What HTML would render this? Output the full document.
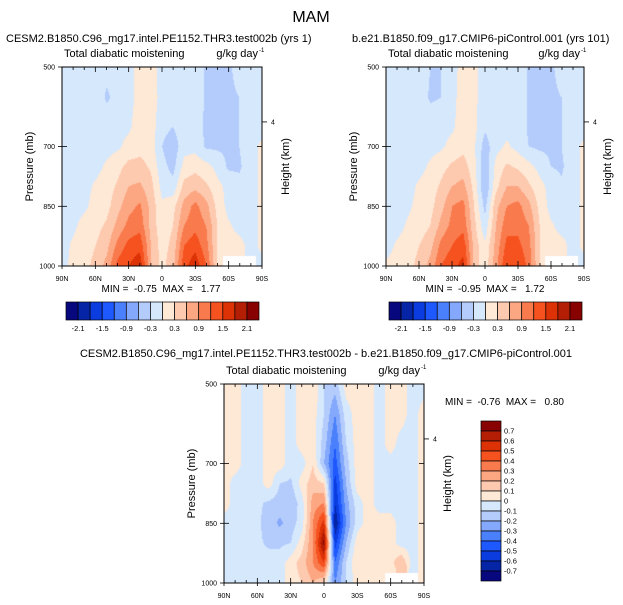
<!DOCTYPE html>
<html><head><meta charset="utf-8">
<style>
body{margin:0;background:#fff;width:623px;height:605px;overflow:hidden;position:relative;font-family:"Liberation Sans",sans-serif}
canvas{position:absolute}
svg{position:absolute;left:0;top:0}
</style></head>
<body>
<canvas id="c1" width="200" height="199" style="left:62px;top:67px"></canvas>
<canvas id="c2" width="198" height="199" style="left:386px;top:67px"></canvas>
<canvas id="c3" width="200" height="199" style="left:224px;top:384px"></canvas>
<svg id="s" width="623" height="605"></svg>
<script>
const lats=[90,80,70,60,50,40,30,20,10,0,-10,-20,-30,-40,-50,-60,-70,-80,-90];
const pres=[500,575,650,700,750,800,850,900,950,1000];
const latTicks=["90N","60N","30N","0","30S","60S","90S"];
const presTicks=[500,700,850,1000];
const topLevels=[-2.1,-1.8,-1.5,-1.2,-0.9,-0.6,-0.3,0,0.3,0.6,0.9,1.2,1.5,1.8,2.1];
const topLabels=["-2.1","-1.5","-0.9","-0.3","0.3","0.9","1.5","2.1"];
const diffLevels=[-0.7,-0.6,-0.5,-0.4,-0.3,-0.2,-0.1,0,0.1,0.2,0.3,0.4,0.5,0.6,0.7];
const palette=["#08087e","#0524a6","#0a3ce0","#1e58ff","#4a80fc","#84a8fc","#b4ccfc","#d6e8fc","#fee8d6","#fdcab0","#fca682","#f97a4c","#f5521f","#dc3206","#b41e04","#880202"];
const data1=[
[-0.1,-0.1,-0.1,-0.1,-0.2,-0.1,-0.1,0.1,0.1,-0.1,-0.1,-0.1,-0.1,-0.35,-0.35,-0.35,-0.2,-0.1,-0.1],
[-0.1,-0.1,-0.1,-0.1,-0.35,-0.2,-0.1,0.1,0.15,-0.1,-0.2,-0.1,-0.1,-0.35,-0.35,-0.35,-0.3,-0.1,-0.1],
[-0.1,-0.1,-0.1,-0.1,-0.1,-0.1,-0.05,0.15,0.15,-0.2,-0.3,-0.1,-0.2,-0.35,-0.35,-0.35,-0.3,-0.1,-0.1],
[-0.1,-0.1,-0.1,-0.1,-0.1,-0.05,0.1,0.2,0.15,-0.3,-0.5,-0.1,-0.1,-0.35,-0.35,-0.35,-0.3,-0.1,0.05],
[-0.1,-0.1,-0.1,-0.1,0.05,0.2,0.4,0.4,0.25,-0.2,-0.4,0.1,0.2,0.1,-0.1,-0.35,-0.35,-0.1,0.05],
[-0.1,-0.1,-0.1,0.05,0.15,0.35,0.6,0.65,0.4,-0.1,-0.2,0.4,0.5,0.35,0.1,-0.1,-0.2,-0.1,0.05],
[-0.1,-0.1,-0.05,0.1,0.2,0.5,0.8,0.95,0.5,0.05,0.2,0.7,1.0,0.7,0.2,-0.1,-0.1,-0.1,0.05],
[-0.1,-0.05,0.1,0.2,0.35,0.7,1.0,1.1,0.5,0.1,0.3,0.9,1.1,0.9,0.3,0.05,-0.1,-0.1,0.05],
[-0.1,0.05,0.15,0.3,0.5,1.0,1.3,1.4,0.6,0.15,0.4,1.2,1.4,1.0,0.3,0.1,0.1,-0.1,0.05],
[-0.1,0.1,0.2,0.4,0.7,1.3,1.5,1.7,0.6,0.2,0.5,1.4,1.7,1.2,0.3,null,null,null,-0.1]];
const data2=[
[-0.1,-0.1,-0.1,-0.1,-0.3,-0.3,-0.1,0.1,0.05,-0.1,-0.1,-0.1,-0.1,-0.35,-0.35,-0.35,-0.2,-0.1,-0.1],
[-0.1,-0.1,-0.1,-0.1,-0.35,-0.3,-0.1,0.15,0.05,-0.1,-0.1,-0.1,-0.1,-0.35,-0.35,-0.35,-0.3,-0.1,-0.1],
[-0.1,-0.1,-0.1,-0.1,-0.1,-0.1,-0.05,0.15,0.1,-0.25,-0.1,-0.1,-0.1,-0.35,-0.35,-0.35,-0.3,-0.1,-0.1],
[-0.1,-0.1,-0.1,-0.1,-0.1,-0.05,0.1,0.2,0.05,-0.45,-0.1,0.05,-0.1,-0.3,-0.35,-0.35,-0.3,-0.1,0.05],
[-0.1,-0.1,-0.1,-0.1,0.05,0.2,0.35,0.45,0.1,-0.55,0.1,0.35,0.25,0.1,-0.1,-0.3,-0.35,-0.1,0.05],
[-0.1,-0.1,-0.1,0.05,0.15,0.35,0.6,0.7,0.2,-0.6,0.2,0.6,0.6,0.35,0.1,-0.1,-0.25,-0.1,0.05],
[-0.1,-0.1,-0.05,0.1,0.2,0.5,0.9,1.0,0.3,-0.4,0.5,0.9,1.0,0.7,0.2,-0.1,-0.2,-0.1,0.05],
[-0.1,-0.1,0.05,0.15,0.3,0.7,1.0,1.1,0.4,-0.2,0.6,1.1,1.1,0.9,0.3,0.05,-0.1,-0.1,0.05],
[-0.1,0.05,0.15,0.3,0.5,1.0,1.2,1.4,0.5,0.05,0.7,1.3,1.3,1.0,0.3,0.1,0.1,-0.1,0.05],
[0.05,0.1,0.2,0.4,0.7,1.2,1.4,1.6,0.5,0.1,0.8,1.5,1.5,1.1,0.3,null,null,null,-0.1]];
const data3=[
[0.05,0.05,-0.05,-0.05,0.05,0.05,-0.05,0.05,0.1,-0.1,-0.15,0.05,0.05,0.05,-0.05,0.05,0.05,-0.05,-0.05],
[0.05,0.05,-0.05,-0.05,0.05,0.05,-0.05,0.05,0.05,-0.1,-0.3,-0.05,0.05,0.05,-0.05,0.05,0.05,-0.05,0.05],
[0.05,0.05,-0.05,-0.05,0.05,0.05,-0.05,0.05,0.05,-0.15,-0.4,-0.1,0.05,0.05,-0.05,0.05,-0.05,-0.05,0.05],
[0.05,0.05,-0.05,-0.05,0.05,0.05,-0.05,-0.05,0.1,-0.2,-0.45,-0.15,0.05,0.05,-0.05,-0.05,-0.05,-0.05,0.05],
[0.05,-0.05,-0.05,-0.05,0.05,-0.1,-0.12,0.05,0.15,0.1,-0.55,-0.2,0.05,0.05,-0.05,-0.05,-0.05,-0.05,0.05],
[0.05,-0.05,-0.05,-0.08,-0.12,-0.15,-0.18,-0.05,0.25,0.3,-0.6,-0.25,-0.05,0.05,-0.05,-0.05,-0.05,-0.05,0.05],
[-0.05,-0.05,-0.05,-0.08,-0.15,-0.22,-0.15,-0.05,0.3,0.55,-0.7,-0.3,-0.05,0.05,0.05,0.05,-0.05,-0.05,0.05],
[-0.05,-0.05,-0.05,-0.08,-0.12,-0.12,-0.1,0.05,0.3,0.75,-0.55,-0.2,0.05,0.1,0.05,0.05,-0.05,-0.05,0.05],
[-0.05,-0.05,-0.05,-0.05,-0.05,-0.05,0.05,0.15,0.3,0.5,-0.4,-0.1,0.1,0.1,0.05,0.05,0.2,-0.05,0.05],
[-0.05,-0.05,-0.05,-0.05,-0.1,-0.05,0.05,0.1,0.2,0.1,-0.3,-0.1,0.05,0.05,0.05,null,null,null,0.05]];

function colorFor(v,levels){let i=0;while(i<levels.length&&v>=levels[i])i++;return palette[i];}
function hex(c){return [parseInt(c.substr(1,2),16),parseInt(c.substr(3,2),16),parseInt(c.substr(5,2),16)];}
function drawField(id,data,levels){
  const cv=document.getElementById(id),ctx=cv.getContext('2d'),W=cv.width,H=cv.height;
  const img=ctx.createImageData(W,H);
  for(let y=0;y<H;y++){
    const p=500+500*y/(H-1);
    let j=0;while(j<pres.length-2&&p>pres[j+1])j++;
    const tp=(p-pres[j])/(pres[j+1]-pres[j]);
    for(let x=0;x<W;x++){
      const lat=90-180*x/(W-1);
      const fi=(90-lat)/10;let i=Math.min(Math.floor(fi),lats.length-2);const tl=fi-i;
      const a=data[j][i],b=data[j][i+1],c=data[j+1][i],d=data[j+1][i+1];
      const nj=tp<0.5?j:j+1,ni=tl<0.5?i:i+1;
      let rgb;
      if(data[nj][ni]===null){rgb=[255,255,255];}
      else{
        const f=v=>v===null?data[nj][ni]:v;
        const v=(f(a)*(1-tl)+f(b)*tl)*(1-tp)+(f(c)*(1-tl)+f(d)*tl)*tp;
        rgb=hex(colorFor(v,levels));
      }
      const k=(y*W+x)*4;img.data[k]=rgb[0];img.data[k+1]=rgb[1];img.data[k+2]=rgb[2];img.data[k+3]=255;
    }
  }
  ctx.putImageData(img,0,0);
}
drawField('c1',data1,topLevels);
drawField('c2',data2,topLevels);
drawField('c3',data3,diffLevels);

const NS='http://www.w3.org/2000/svg',S=document.getElementById('s');
function el(tag,attrs,txt){const e=document.createElementNS(NS,tag);for(const k in attrs)e.setAttribute(k,attrs[k]);if(txt!==undefined)e.textContent=txt;S.appendChild(e);return e;}
function txt(x,y,s,size,anchor,name,extra){const t=el('text',Object.assign({x:x,y:y,'font-size':size,'text-anchor':anchor||'start','font-family':'Liberation Sans, sans-serif',fill:'#000'},extra||{}),s);return t;}

txt(311,22,"MAM",16,'middle','main-title');

function panel(x0,y0,w,h,name,hx){
  const xs=lat=>x0+(90-lat)/180*w, ys=p=>y0+(p-500)/500*h;
  const r=el('rect',{x:x0,y:y0,width:w,height:h,fill:'none',stroke:'#000','stroke-width':1});
  
  for(let lat=90;lat>=-90;lat-=10){
    const maj=lat%30===0,L=maj?5:3;
    el('line',{x1:xs(lat),x2:xs(lat),y1:y0+h,y2:y0+h-L,stroke:'#000','stroke-width':0.8});
    el('line',{x1:xs(lat),x2:xs(lat),y1:y0,y2:y0+L,stroke:'#000','stroke-width':0.8});
    if(maj) el('line',{x1:xs(lat),x2:xs(lat),y1:y0+h,y2:y0+h+3,stroke:'#000','stroke-width':0.8});
  }
  latTicks.forEach((s,i)=>{txt(xs(90-30*i),y0+h+15,s,7,'middle',name+'-x-tick-label');});
  presTicks.forEach(p=>{
    el('line',{x1:x0-4,x2:x0+5,y1:ys(p),y2:ys(p),stroke:'#000','stroke-width':0.8});
    el('line',{x1:x0+w,x2:x0+w-5,y1:ys(p),y2:ys(p),stroke:'#000','stroke-width':0.8});
    txt(x0-7,ys(p)+2.5,String(p),7,'end',name+'-y-tick-label');
  });
  el('line',{x1:x0+w,x2:x0+w+5,y1:ys(hx),y2:ys(hx),stroke:'#000','stroke-width':0.8});
  txt(x0+w+9,ys(hx)+2.5,"4",7,'start',name+'-height-tick-label');
  txt(x0-33,y0+h/2,"Pressure (mb)",11,'middle',name+'-y-axis-title',{transform:`rotate(-90 ${x0-33} ${y0+h/2})`,dy:'4'});
  txt(x0+w+23,y0+h/2,"Height (km)",11,'middle',name+'-right-axis-title',{transform:`rotate(-90 ${x0+w+23} ${y0+h/2})`,dy:'4'});
  txt(x0+2,y0-10,"Total diabatic moistening",11,'start',name+'-variable-label');
  txt(x0+w-4,y0-10,"g/kg day",11,'end',name+'-units-label');
  txt(x0+w-3,y0-15,"-1",6,'start',name+'-units-exponent');
}
panel(62,67,200,199,'panel-1',638);
panel(386,67,198,199,'panel-2',638);
panel(224,384,200,199,'panel-diff',638);

txt(6,42,"CESM2.B1850.C96_mg17.intel.PE1152.THR3.test002b (yrs 1)",11,'start','panel-1-title');
txt(352,42,"b.e21.B1850.f09_g17.CMIP6-piControl.001 (yrs 101)",11,'start','panel-2-title');
txt(326,357,"CESM2.B1850.C96_mg17.intel.PE1152.THR3.test002b - b.e21.B1850.f09_g17.CMIP6-piControl.001",11,'middle','panel-diff-title');
txt(161,292,"MIN =  -0.75  MAX =   1.77",10,'middle','panel-1-minmax',{style:'white-space:pre'});
txt(485,292,"MIN =  -0.95  MAX =   1.72",10,'middle','panel-2-minmax',{style:'white-space:pre'});
txt(445,405,"MIN =  -0.76  MAX =   0.80",10,'start','panel-diff-minmax',{style:'white-space:pre'});

function hbar(x0,name){
  const bw=193/16;
  palette.forEach((c,i)=>{const r=el('rect',{x:x0+i*bw,y:302,width:bw,height:18,fill:c,stroke:'#000','stroke-width':0.7});
    });
  topLabels.forEach((s,k)=>{txt(x0+(2*k+1)*bw,331,s,7.5,'middle',name+'-label');});
}
hbar(66,'colorbar-1');hbar(389,'colorbar-2');
const diffLabels=["0.7","0.6","0.5","0.4","0.3","0.2","0.1","0","-0.1","-0.2","-0.3","-0.4","-0.5","-0.6","-0.7"];
palette.slice().reverse().forEach((c,i)=>{const r=el('rect',{x:481,y:421+i*10,width:20,height:10,fill:c,stroke:'#000','stroke-width':0.7});
  });
diffLabels.forEach((s,i)=>{txt(504,433.5+i*10,s,7.5,'start','colorbar-diff-label');});
</script>
</body></html>
